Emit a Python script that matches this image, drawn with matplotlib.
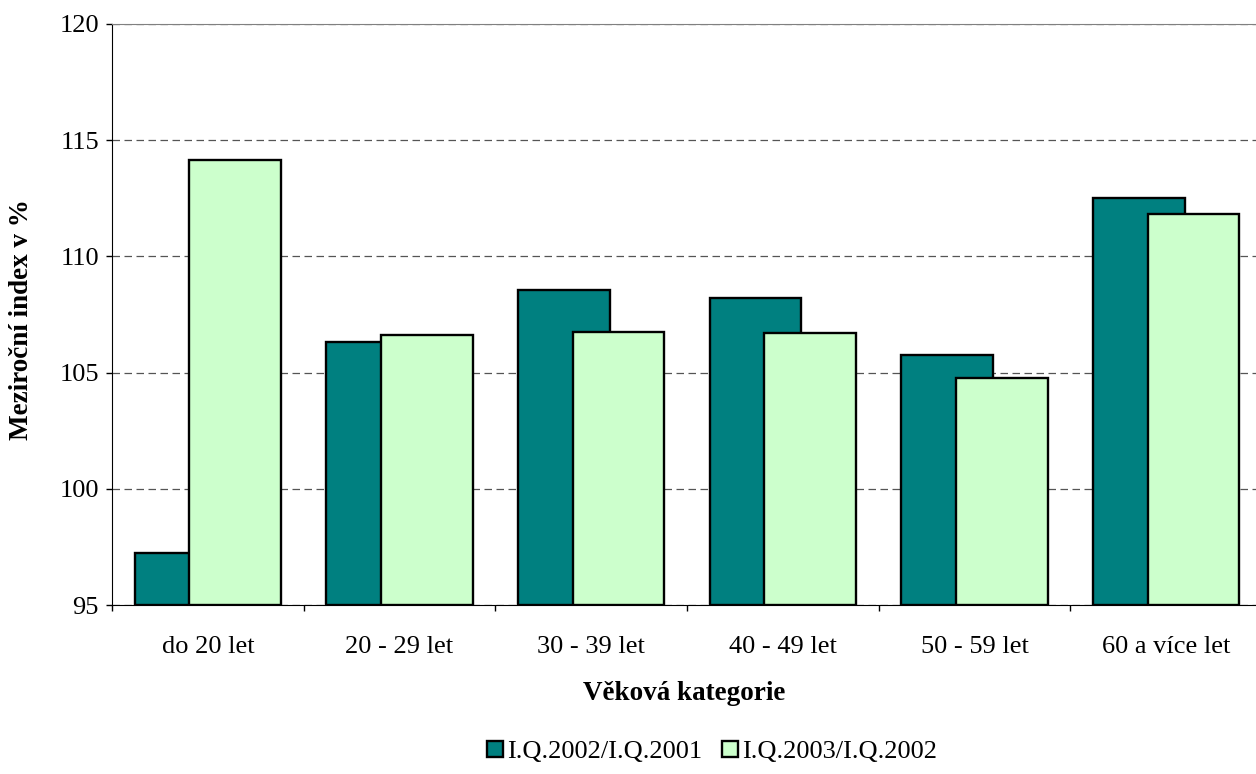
import matplotlib
matplotlib.use("Agg")
import matplotlib.pyplot as plt
from matplotlib.patches import Patch
import numpy as np

plt.rcParams['font.family'] = ['Liberation Serif', 'DejaVu Serif']

# data
categories = ['do 20 let', '20 - 29 let', '30 - 39 let', '40 - 49 let', '50 - 59 let', '60 a více let']
idx_2002 = [97.25, 106.32, 108.57, 108.22, 105.76, 112.51]
idx_2003 = [114.15, 106.63, 106.76, 106.72, 104.77, 111.82]
series_names = ['I.Q.2002/I.Q.2001', 'I.Q.2003/I.Q.2002']
yticks = [95, 100, 105, 110, 115, 120]

dark = '#008080'
light = '#CCFFCC'
fs = 19

W, H = 1256, 774
fig = plt.figure(figsize=(W / 100, H / 100), dpi=100)
# plot area runs a little past the right edge, like the source image
ax = fig.add_axes([112 / W, 1 - 605 / H, 1150 / W, 581 / H])

x = np.arange(len(categories)) + 0.5
bw = 0.479
off = 0.143
ax.bar(x - off, np.array(idx_2002) - 95, bottom=95, width=bw, color=dark,
       edgecolor='black', linewidth=1.7, zorder=2)
ax.bar(x + off, np.array(idx_2003) - 95, bottom=95, width=bw, color=light,
       edgecolor='black', linewidth=1.7, zorder=3)

ax.set_xlim(0, len(categories))
ax.set_ylim(95, 120)
ax.set_yticks(yticks)
ax.tick_params(axis='y', direction='out', length=4.5, width=1, pad=5, labelsize=fs)

# ticks between categories, labels at centres
ax.set_xticks(np.arange(len(categories) + 1))
ax.set_xticklabels([])
ax.set_xticks(x, minor=True)
ax.set_xticklabels(categories, minor=True)
ax.tick_params(axis='x', which='major', direction='out', length=4.5, width=1)
ax.tick_params(axis='x', which='minor', length=0, pad=22, labelsize=fs)

ax.yaxis.grid(True, linestyle=(0, (6, 3.6)), color='#555555', linewidth=0.9)
ax.set_axisbelow(True)

for s in ['top', 'right']:
    ax.spines[s].set_color('#808080')
for s in ['left', 'bottom']:
    ax.spines[s].set_color('black')

fig.text(22 / W, 1 - 320 / H, 'Meziroční index v %', rotation=90,
         ha='center', va='center', fontsize=fs + 0.5, fontweight='bold')
fig.text(684 / W, 1 - 693 / H, 'Věková kategorie', ha='center', va='center',
         fontsize=fs + 0.5, fontweight='bold')

handles = [Patch(facecolor=dark, edgecolor='black', linewidth=1.7),
           Patch(facecolor=light, edgecolor='black', linewidth=1.7)]
fig.legend(handles, series_names, loc='center', bbox_to_anchor=(712 / W, 1 - 752 / H),
           ncol=2, frameon=False, fontsize=fs, handlelength=0.6, handleheight=0.6,
           handletextpad=0.15, columnspacing=0.75)

fig.savefig('out.png', dpi=100)
